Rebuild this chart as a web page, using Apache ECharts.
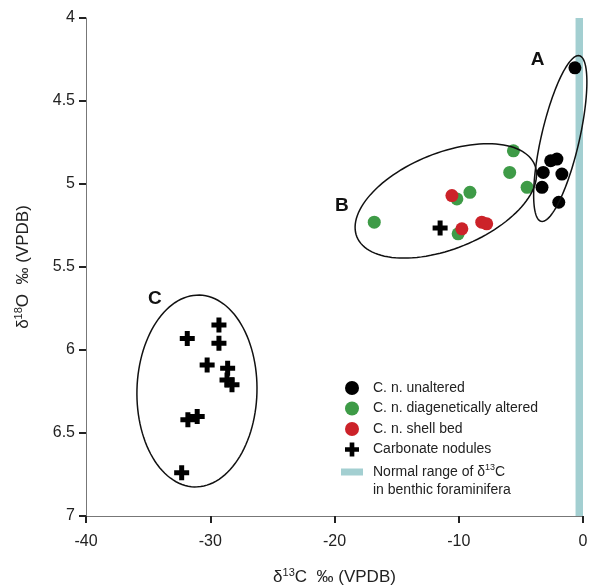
<!DOCTYPE html>
<html>
<head>
<meta charset="utf-8">
<script src="https://cdn.jsdelivr.net/npm/echarts@6/dist/echarts.min.js"></script>
<style>
  html, body { margin: 0; padding: 0; background: #fff; }
  #main { width: 589px; height: 587px; }
</style>
</head>
<body>
<div id="main"></div>
<script>
// data: [d13C, d18O]
var unaltered = [[-0.65, 4.30], [-2.6, 4.86], [-2.1, 4.85], [-3.2, 4.93], [-1.7, 4.94], [-3.3, 5.02], [-1.95, 5.11]];
var altered = [[-5.6, 4.80], [-5.9, 4.93], [-4.5, 5.02], [-9.1, 5.05], [-10.15, 5.09], [-16.8, 5.23], [-10.05, 5.30]];
var shellBed = [[-10.55, 5.07], [-9.75, 5.27], [-8.15, 5.23], [-7.75, 5.24]];
var nodules = [[-11.5, 5.265], [-31.85, 5.93], [-29.3, 5.85], [-29.3, 5.96], [-30.25, 6.09], [-28.6, 6.11],
               [-28.65, 6.18], [-28.25, 6.21], [-31.8, 6.42], [-31.05, 6.40], [-32.3, 6.74]];
var bandRange = [-0.6, 0];   // normal d13C range of benthic foraminifera
var xRange = [-40, 0];
var yRange = [4, 7];

// groups A, B, C: centre, semi axes (data units), tilt in degrees, label position
var groups = [
    { name: 'A', cx: -1.83, cy: 4.726, rx: 1.53, ry: 0.512, rot: 13, lx: -3.65, ly: 4.25 },
    { name: 'B', cx: -11.04, cy: 5.102, rx: 7.72, ry: 0.289, rot: -22, lx: -19.4, ly: 5.13 },
    { name: 'C', cx: -31.07, cy: 6.247, rx: 4.83, ry: 0.578, rot: 1.5, lx: -34.45, ly: 5.69 }
];

var FONT = 'Liberation Sans, Arial, sans-serif';
var bandName = 'Normal range of δ13C in benthic foraminifera';
var crossPath = 'path://M4,0H8V4H12V8H8V12H4V8H0V4H4Z';

var dom = document.getElementById('main');
var myChart = echarts.init(dom);

var option = {
    animation: false,
    grid: { left: 86, right: 6, top: 18, bottom: 71, outerBoundsMode: 'none' },
    legend: {
        orient: 'vertical',
        left: 336,
        top: 376,
        itemWidth: 22,
        itemHeight: 14,
        itemGap: 6.5,
        itemTextGap: 15,
        selectedMode: false,
        textStyle: {
            fontFamily: FONT, fontSize: 14, color: '#222',
            padding: [0, 0, 0, 5],
            rich: {
                t: { fontFamily: FONT, fontSize: 14, color: '#222', lineHeight: 18 },
                s: { fontFamily: FONT, fontSize: 9, color: '#222', verticalAlign: 'top', lineHeight: 18 }
            }
        },
        formatter: function (name) {
            if (name === bandName) {
                return '{t|Normal range of δ}{s|13}{t|C}\n{t|in benthic foraminifera}';
            }
            return name;
        },
        data: [
            { name: 'C. n. unaltered', icon: 'circle' },
            { name: 'C. n. diagenetically altered', icon: 'circle' },
            { name: 'C. n. shell bed', icon: 'circle' },
            { name: 'Carbonate nodules', icon: crossPath },
            { name: bandName, icon: 'path://M0,0H22V7H0Z', textStyle: { padding: [18, 0, 0, 5] } }
        ]
    },
    xAxis: {
        type: 'value',
        min: xRange[0],
        max: xRange[1],
        interval: 10,
        splitLine: { show: false },
        axisLine: { show: true, onZero: false, lineStyle: { color: '#777', width: 1 } },
        axisTick: { show: true, length: 7, lineStyle: { color: '#222', width: 2 } },
        axisLabel: { fontFamily: FONT, fontSize: 16, color: '#222', margin: 18 },
        name: '{t|δ}{s|13}{t|C  ‰ (VPDB)}',
        nameLocation: 'middle',
        nameGap: 51,
        nameTextStyle: {
            rich: {
                t: { fontFamily: FONT, fontSize: 17, color: '#222', lineHeight: 20 },
                s: { fontFamily: FONT, fontSize: 11, color: '#222', verticalAlign: 'top', lineHeight: 20 }
            }
        }
    },
    yAxis: {
        type: 'value',
        inverse: true,
        min: yRange[0],
        max: yRange[1],
        interval: 0.5,
        splitLine: { show: false },
        axisLine: { show: true, onZero: false, lineStyle: { color: '#777', width: 1 } },
        axisTick: { show: true, length: 7, lineStyle: { color: '#222', width: 2 } },
        axisLabel: { fontFamily: FONT, fontSize: 16, color: '#222', margin: 11 },
        name: '{t|δ}{s|18}{t|O  ‰ (VPDB)}',
        nameLocation: 'middle',
        nameRotate: 90,
        nameGap: 53,
        nameTextStyle: {
            rich: {
                t: { fontFamily: FONT, fontSize: 17, color: '#222', lineHeight: 20 },
                s: { fontFamily: FONT, fontSize: 11, color: '#222', verticalAlign: 'top', lineHeight: 20 }
            }
        }
    },
    series: [
        {
            name: bandName,
            type: 'custom',
            itemStyle: { color: '#a3cfd1' },
            data: [[bandRange[0], bandRange[1]]],
            encode: { x: [0, 1] },
            renderItem: function (params, api) {
                var p0 = api.coord([api.value(0), yRange[0]]);
                var p1 = api.coord([api.value(1), yRange[1]]);
                return {
                    type: 'rect',
                    shape: { x: p0[0], y: p0[1], width: p1[0] - p0[0], height: p1[1] - p0[1] },
                    style: { fill: '#a3cfd1' }
                };
            },
            z: 1
        },
        {
            name: 'C. n. diagenetically altered',
            type: 'scatter',
            symbol: 'circle',
            symbolSize: 13,
            itemStyle: { color: '#3e9b47', opacity: 1 },
            data: altered,
            emphasis: { disabled: true },
            z: 3
        },
        {
            name: 'C. n. shell bed',
            type: 'scatter',
            symbol: 'circle',
            symbolSize: 13,
            itemStyle: { color: '#cc2229', opacity: 1 },
            data: shellBed,
            emphasis: { disabled: true },
            z: 4
        },
        {
            name: 'C. n. unaltered',
            type: 'scatter',
            symbol: 'circle',
            symbolSize: 13,
            itemStyle: { color: '#000', opacity: 1 },
            data: unaltered,
            emphasis: { disabled: true },
            z: 5
        },
        {
            name: 'Carbonate nodules',
            type: 'scatter',
            symbol: crossPath,
            symbolSize: 15,
            itemStyle: { color: '#000', opacity: 1 },
            data: nodules,
            emphasis: { disabled: true },
            z: 6
        },
        {
            name: 'groups',
            type: 'custom',
            data: groups.map(function (g) { return [g.cx, g.cy]; }),
            renderItem: function (params, api) {
                var g = groups[params.dataIndex];
                var c = api.coord([g.cx, g.cy]);
                var s = api.size([g.rx, g.ry]);
                var a = g.rot * Math.PI / 180;
                var pts = [];
                for (var i = 0; i < 120; i++) {
                    var t = i / 120 * Math.PI * 2;
                    var ex = s[0] * Math.cos(t), ey = s[1] * Math.sin(t);
                    pts.push([c[0] + ex * Math.cos(a) - ey * Math.sin(a),
                              c[1] + ex * Math.sin(a) + ey * Math.cos(a)]);
                }
                var l = api.coord([g.lx, g.ly]);
                return {
                    type: 'group',
                    children: [
                        { type: 'polygon', shape: { points: pts },
                          style: { fill: 'none', stroke: '#111', lineWidth: 1.5 } },
                        { type: 'text', x: l[0], y: l[1],
                          style: { text: g.name, fill: '#111', font: 'bold 19px ' + FONT,
                                   align: 'center', verticalAlign: 'middle' } }
                    ]
                };
            },
            silent: true,
            z: 7
        }
    ]
};

myChart.setOption(option);
</script>
</body>
</html>
